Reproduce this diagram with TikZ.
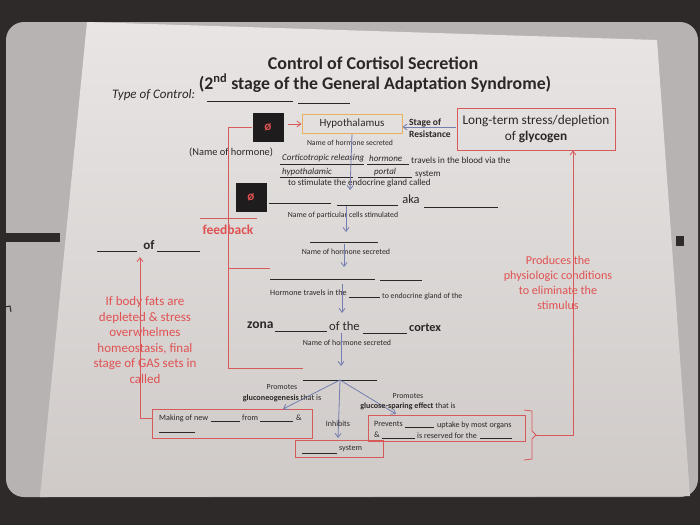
\documentclass[tikz,border=0pt]{standalone}
\usepackage{fontspec}
\setmainfont{Carlito}
\usetikzlibrary{arrows.meta,calc}
\definecolor{ink}{HTML}{2B2727}
\definecolor{redtext}{HTML}{E05252}
\definecolor{redline}{HTML}{D65A5A}
\definecolor{bluearr}{HTML}{737DAF}
\definecolor{orangeb}{HTML}{E8AF5F}
\definecolor{papertop}{HTML}{E8E5E4}
\definecolor{paperbot}{HTML}{CFCAC8}
\definecolor{board}{HTML}{B7B3B2}
\definecolor{bgdark}{HTML}{2E2A29}
\definecolor{sqblack}{HTML}{1E1C1C}
\tikzset{
  fs/.style={font=\fontsize{#1}{#1}\selectfont},
  lab/.style={inner sep=0pt, text=ink},
  redlab/.style={inner sep=0pt, text=redtext},
  blank/.style={draw=ink, line width=0.6pt},
  bluearrow/.style={draw=bluearr, line width=0.8pt, -{Straight Barb[length=4pt,width=6pt]}},
  redarrow/.style={draw=redline, line width=0.8pt, -{Straight Barb[length=4pt,width=6pt]}},
  redl/.style={draw=redline, line width=0.8pt},
  rbox/.style={draw=redline, line width=0.9pt, inner sep=0pt},
  sq/.style={fill=sqblack, minimum width=31pt, minimum height=29pt, inner sep=0pt, text=redtext, font=\bfseries\fontsize{13}{13}\selectfont},
  hand/.style={inner sep=0pt, text=ink, font=\itshape\fontsize{9}{9}\selectfont}
}
\begin{document}
\begin{tikzpicture}[x=1pt,y=-1pt]
\useasboundingbox (0,0) rectangle (700,525);
% photo background
\fill[bgdark] (0,0) rectangle (700,525);
\fill[board, rounded corners=18pt] (6,22) rectangle (698,497);
\shade[top color=papertop, bottom color=paperbot] (87,22) -- (657,40) -- (690,496) -- (40,497) -- cycle;
\fill[bgdark] (0,233) rectangle (60,242);
\fill[bgdark] (676,236) rectangle (684,246);
\draw[bgdark, line width=1pt] (0,308) -- (10,306) -- (11,312);

% title
\node[lab, font=\bfseries\fontsize{18}{18}\selectfont] (title1) at (373,63) {Control of Cortisol Secretion};
\node[lab, font=\bfseries\fontsize{17.8}{17.8}\selectfont] (title2) at (375,83) {(2\textsuperscript{nd} stage of the General Adaptation Syndrome)};
\node[lab, anchor=west, font=\itshape\fontsize{13}{13}\selectfont] (toc) at (112,95) {Type of Control:};
\draw[blank] (207,101) -- (293,101);
\draw[blank] (298,103) -- (350,103);

% top row
\node[sq] (sq1) at (268,127) {ø};
\node[lab, draw=orangeb, line width=1pt, minimum width=100pt, minimum height=19pt, fs=11] (hypo) at (352,124) {Hypothalamus};
\node[lab, draw=redline, line width=0.9pt, minimum width=158pt, minimum height=42pt, align=center, font=\fontsize{13.3}{16}\selectfont] (lt) at (536,129) {Long-term stress/depletion\\of \textbf{glycogen}};
\node[lab, anchor=west, align=left, font=\bfseries\fontsize{9.5}{12}\selectfont] (stage) at (409,128.5) {Stage of\\Resistance};
\draw[redarrow] ($(sq1.east)+(4,-3)$) -- (hypo.west);
\draw[bluearrow] ($(lt.west)+(-1,-2)$) -- ($(hypo.east)+(0,3)$);

% hypothalamus hormone text
\node[lab, fs=7.7] (nh1) at (350,143) {Name of hormone secreted};
\node[lab, anchor=west, fs=10.4] (nameh) at (189,152) {(Name of hormone)};
\node[hand, anchor=west] (h1) at (282,158) {Corticotropic releasing};
\draw[blank] (280,164) -- (364,164);
\node[hand, anchor=west] (h2) at (369,158) {hormone};
\draw[blank] (367,164) -- (409,164);
\node[lab, anchor=west, fs=9.2] (trav) at (411,160) {travels  in the blood via the};
\node[hand, anchor=west] (h3) at (282,172) {hypothalamic};
\draw[blank] (280,177) -- (353,177);
\node[hand] (h4) at (385,172) {portal};
\draw[blank] (358,177) -- (412,177);
\node[lab, anchor=west, fs=9] (sys1) at (415,174) {system};
\node[lab, anchor=west, fs=9] (stim) at (288,183) {to stimulate the endocrine gland called};
\coordinate (a1) at (350,190);
\draw[bluearrow] (hypo.south) -- (a1);

% pituitary row
\node[sq] (sq2) at (251,197) {ø};
\draw[blank] (269,203) -- (331,203);
\draw[blank] (337,205) -- (398,205);
\node[lab, fs=12.5] (aka) at (411,199) {aka};
\draw[blank] (424,207) -- (498,207);
\node[lab, fs=7.8] (cells) at (343,215) {Name of particular cells stimulated};
\coordinate (a2s) at (346,206);
\coordinate (a2e) at (346,232);
\draw[bluearrow] (a2s) -- (a2e);
\draw[blank] (310,242) -- (378,242);
\node[lab, fs=7.9] (nh2) at (346,252) {Name of hormone secreted};
\coordinate (a3s) at (344,244);
\coordinate (a3e) at (344,267);
\draw[bluearrow] (a3s) -- (a3e);
\draw[blank] (270,279) -- (375,279);
\draw[blank] (380,280) -- (422,280);
\node[lab, anchor=west, fs=8.2] (htrav) at (270,293) {Hormone travels in  the};
\draw[blank] (349,297) -- (380,297);
\node[lab, anchor=west, fs=7.8] (endo) at (382,296) {to endocrine gland of the};
\coordinate (a4s) at (342,284);
\coordinate (a4e) at (342,313);
\draw[bluearrow] (a4s) -- (a4e);

% adrenal row
\node[lab, anchor=west, font=\bfseries\fontsize{13.5}{13.5}\selectfont] (zona) at (247,325) {zona};
\draw[blank] (275,331) -- (327,331);
\node[lab, anchor=west, fs=12.6] (ofthe) at (329,326) {of the};
\draw[blank] (363,333) -- (407,333);
\node[lab, anchor=west, font=\bfseries\fontsize{12.3}{12.3}\selectfont] (cortex) at (409,328) {cortex};
\node[lab, fs=7.9] (nh3) at (347,343) {Name of hormone secreted};
\coordinate (a5s) at (341,333);
\coordinate (a5e) at (341,366);
\draw[bluearrow] (a5s) -- (a5e);
\draw[draw=ink, line width=1pt] (303,380) -- (377,380);
\coordinate (cort) at (340,380);

% effects
\node[rbox, minimum width=160pt, minimum height=29pt] (make) at (232,423.5) {};
\node[rbox, minimum width=88pt, minimum height=17pt] (sysb) at (339,448.5) {};
\node[rbox, minimum width=157pt, minimum height=26pt] (prev) at (446.5,428.5) {};
\coordinate (tMake) at (283,409);
\coordinate (tSys) at (338,438);
\coordinate (tPrev) at (396,414);
\draw[bluearrow] (cort) -- (tMake);
\draw[bluearrow] (cort) -- (tSys);
\draw[bluearrow] (cort) -- (tPrev);
\node[lab, fs=7.8] (prom1) at (282,387) {Promotes};
\node[lab, fs=8.2] (glu1) at (282,398) {\textbf{gluconeogenesis} that is};
\node[lab, fs=7.8] (prom2) at (408,396) {Promotes};
\node[lab, fs=8.1] (glu2) at (408,406) {\textbf{glucose-sparing effect} that is};
\node[lab, fs=8] (inh) at (338,424) {Inhibits};
\node[lab, anchor=west, fs=8.1] (mk1) at (159,418) {Making of new};
\draw[blank] (211,421) -- (240,421);
\node[lab, anchor=west, fs=8.1] (mk2) at (242,418) {from};
\draw[blank] (260,421) -- (293,421);
\node[lab, anchor=west, fs=8.1] (mk3) at (296,418) {\&};
\draw[blank] (159,432) -- (195,432);
\draw[blank] (302,453) -- (337,453);
\node[lab, anchor=west, fs=8.1] (sy2) at (339,449) {system};
\node[lab, anchor=west, fs=8.1] (pv1) at (374,424) {Prevents};
\draw[blank] (405,427) -- (434,427);
\node[lab, anchor=west, fs=8.1] (pv2) at (437,425) {uptake by most organs};
\node[lab, anchor=west, fs=8.1] (pv3) at (374,435) {\&};
\draw[blank] (382,438) -- (415,438);
\node[lab, anchor=west, fs=8.1] (pv4) at (417,436) {is reserved for the};
\draw[blank] (480,438) -- (512,438);

% right bracket and return line
\coordinate (brtip) at (536,435);
\draw[redl] (524,410) -- (532,411) -- (532,431) -- (brtip) -- (532,439) -- (532,459) -- (524,460);
\coordinate (rt) at (573,435);
\draw[redarrow] (brtip) -- (rt) -- (rt |- lt.south);
\node[redlab, align=center, font=\fontsize{12.1}{14.8}\selectfont] (produces) at (558,283) {Produces the\\physiologic conditions\\to eliminate the\\stimulus};

% negative feedback lines
\coordinate (fbT) at (228,127);
\coordinate (fbM) at (228,268);
\coordinate (fbMR) at (270,268);
\coordinate (fbB) at (228,368);
\coordinate (fbBR) at (303,368);
\draw[redl] (sq1.west) -- (fbT) -- (fbB) -- (fbBR);
\draw[redl] (fbM) -- (fbMR);
\draw[redl] (200,218) -- (257,218);
\node[redlab, font=\bfseries\fontsize{13.5}{13.5}\selectfont] (fb) at (228,230) {feedback};

% exhaustion
\draw[blank] (97,251) -- (137,251);
\node[lab, font=\bfseries\fontsize{13}{13}\selectfont] (of) at (149,245) {of};
\draw[blank] (157,251) -- (200,251);
\coordinate (mkL) at (152,418);
\coordinate (lb) at (140,418);
\coordinate (ofA) at (140,257);
\draw[redarrow] (mkL) -- (lb) -- (ofA);
\node[redlab, align=center, font=\fontsize{13}{15.5}\selectfont] (exh) at (145,340) {If body fats are\\depleted \&  stress\\overwhelmes\\homeostasis, final\\stage of GAS sets in\\called};
\end{tikzpicture}
\end{document}
